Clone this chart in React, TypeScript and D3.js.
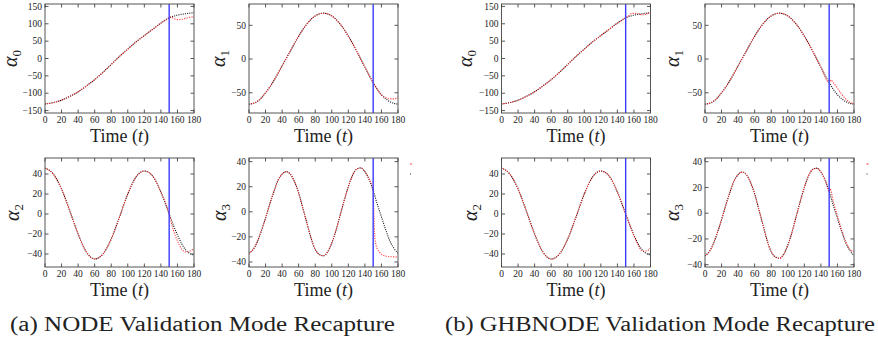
import React from 'react';
import * as d3 from 'd3';

// ---------- data ----------
const T10 = [0, 10, 20, 30, 40, 50, 60, 70, 80, 90, 100, 110, 120, 130, 140, 150, 160, 170, 180];
const T5 = [0, 5, 10, 15, 20, 25, 30, 35, 40, 45, 50, 55, 60, 65, 70, 75, 80, 85, 90, 95, 100, 105, 110, 115, 120, 125, 130, 135, 140, 145, 150, 155, 160, 165, 170, 175, 180];

const alpha0Truth = [-131, -127, -120, -109, -96, -79, -61, -40, -17, 6, 27, 48, 66, 84, 102, 117, 125, 129, 132];
const alpha1Truth = [-67, -63, -50, -32, -10, 12, 34, 52, 64, 68, 64, 52, 34, 12, -12, -35, -53, -63, -67];
const alpha2Truth = [46, 40, 25, 3, -20, -38, -45, -40, -25, -3, 20, 37, 43, 38, 22, 0, -21, -36, -41];
const alpha3Truth = [-33, -30, -24, -15, -5, 6, 16, 25, 30, 32, 30, 24, 15, 3, -9, -21, -30, -34, -35, -32, -25, -15, -3, 9, 20, 29, 34, 35, 32, 26, 17, 6, -4, -14, -23, -29, -33];

// NODE validation predictions (after t = 150)
const nodeA0T = [150, 152, 155, 160, 165, 170, 175, 180];
const nodeA0 = [117, 120, 116, 112, 113, 116, 119, 120];
const nodeA1T = [150, 155, 160, 165, 170, 175, 180];
const nodeA1 = [-35, -45, -53, -57, -59, -59, -57];
const nodeA2T = [150, 155, 160, 165, 170, 175, 180];
const nodeA2 = [0, -16, -27, -35, -38, -37, -35];
const nodeA3T = [150, 150.4, 150.8, 151.3, 152, 153, 155, 158, 162, 170, 180];
const nodeA3 = [17, 8, -2, -12, -20, -25, -29.5, -32.5, -34.5, -35.8, -36];

// GHBNODE validation predictions (after t = 150)
const ghbA0T = [150, 154, 158, 162, 166, 170, 174, 177, 180];
const ghbA0 = [117, 124, 130, 130, 128, 126, 127, 130, 132];
const ghbA1T = [150, 152, 155, 160, 165, 170, 175, 180];
const ghbA1 = [-30, -31, -35, -43, -52, -59, -64, -66];
const ghbA2T = [150, 155, 160, 165, 170, 175, 180];
const ghbA2 = [0, -11, -22, -31, -37, -37, -34];
const ghbA3T = [150, 151, 155, 160, 165, 170, 175, 180];
const ghbA3 = [18, 19, 9, -2, -13, -22, -28, -30];

const xTicks = [0, 20, 40, 60, 80, 100, 120, 140, 160, 180];
const yTicksA0 = [-150, -100, -50, 0, 50, 100, 150];
const yTicksA1 = [-50, 0, 50];
const yTicksA23 = [-40, -20, 0, 20, 40];
const splitT = 150;
const captions = ['(a) NODE Validation Mode Recapture', '(b) GHBNODE Validation Mode Recapture'];

// ---------- layout ----------
const W = 149;
const H = 109;
const serif = "'Times New Roman', Times, 'Liberation Serif', 'DejaVu Serif', serif";

type P = {
  left: number; top: number; dom: [number, number]; ticks: number[];
  tT: number[]; tV: number[]; pT: number[]; pV: number[]; sub: string; labOff: number;
};

const panels: P[] = [
  { left: 45, top: 4, dom: [-157, 157], ticks: yTicksA0, tT: T10, tV: alpha0Truth, pT: nodeA0T, pV: nodeA0, sub: '0', labOff: 28 },
  { left: 249, top: 4, dom: [-80, 81.6], ticks: yTicksA1, tT: T10, tV: alpha1Truth, pT: nodeA1T, pV: nodeA1, sub: '1', labOff: 24 },
  { left: 45, top: 158, dom: [-53, 56], ticks: yTicksA23, tT: T10, tV: alpha2Truth, pT: nodeA2T, pV: nodeA2, sub: '2', labOff: 26 },
  { left: 249, top: 158, dom: [-44, 42.9], ticks: yTicksA23, tT: T5, tV: alpha3Truth, pT: nodeA3T, pV: nodeA3, sub: '3', labOff: 23 },
  { left: 501.5, top: 4, dom: [-157, 157], ticks: yTicksA0, tT: T10, tV: alpha0Truth, pT: ghbA0T, pV: ghbA0, sub: '0', labOff: 30 },
  { left: 705, top: 4, dom: [-80, 81.6], ticks: yTicksA1, tT: T10, tV: alpha1Truth, pT: ghbA1T, pV: ghbA1, sub: '1', labOff: 26 },
  { left: 501.5, top: 158, dom: [-53, 56], ticks: yTicksA23, tT: T10, tV: alpha2Truth, pT: ghbA2T, pV: ghbA2, sub: '2', labOff: 25 },
  { left: 705, top: 158, dom: [-41.8, 42.9], ticks: yTicksA23, tT: T5, tV: alpha3Truth, pT: ghbA3T, pV: ghbA3, sub: '3', labOff: 26 },
];

const fmt = d3.format('d');

function Panel({ p, i }: { p: P; i: number }) {
  const x = d3.scaleLinear().domain([0, 180]).range([p.left, p.left + W]);
  const y = d3.scaleLinear().domain(p.dom).range([p.top + H, p.top]);
  const line = d3.line<[number, number]>().x(d => x(d[0])).y(d => y(d[1])).curve(d3.curveMonotoneX);
  const truth: [number, number][] = p.tT.map((t, k) => [t, p.tV[k]]);
  const recon: [number, number][] = truth.filter(d => d[0] <= splitT);
  const pred: [number, number][] = [...recon, ...p.pT.map((t, k) => [t, p.pV[k]] as [number, number]).filter(d => d[0] > splitT)];
  const bottom = p.top + H;
  const tl = 3.5;
  const clipId = `clip${i}`;
  return (
    <g>
      <defs>
        <clipPath id={clipId}>
          <rect x={p.left} y={p.top} width={W} height={H} />
        </clipPath>
      </defs>
      <g clipPath={`url(#${clipId})`}>
        <path d={line(truth) || ''} fill="none" stroke="#111" strokeWidth={1.1} strokeDasharray="1 1.2" />
        <path d={line(pred) || ''} fill="none" stroke="#ff2a2a" strokeWidth={1.1} strokeDasharray="1.2 1.3" strokeDashoffset={1} opacity={0.9} />
        <line x1={x(splitT)} x2={x(splitT)} y1={p.top} y2={bottom} stroke="#3b3bff" strokeWidth={1.4} />
      </g>
      <rect x={p.left} y={p.top} width={W} height={H} fill="none" stroke="#555" strokeWidth={1} />
      {xTicks.map(t => (
        <g key={'x' + t}>
          <line x1={x(t)} x2={x(t)} y1={bottom} y2={bottom - tl} stroke="#444" strokeWidth={0.9} />
          <line x1={x(t)} x2={x(t)} y1={p.top} y2={p.top + tl} stroke="#444" strokeWidth={0.9} />
          <text x={x(t)} y={bottom + 9.5} fontSize={9.5} fontFamily={serif} textAnchor="middle" fill="#222">{fmt(t)}</text>
        </g>
      ))}
      {p.ticks.map(v => (
        <g key={'y' + v}>
          <line x1={p.left} x2={p.left + tl} y1={y(v)} y2={y(v)} stroke="#444" strokeWidth={0.9} />
          <line x1={p.left + W} x2={p.left + W - tl} y1={y(v)} y2={y(v)} stroke="#444" strokeWidth={0.9} />
          <text x={p.left - 3} y={y(v)} dy="0.34em" fontSize={9.5} fontFamily={serif} textAnchor="end" fill="#222">{fmt(v)}</text>
        </g>
      ))}
      <text x={p.left + W / 2} y={bottom + 29} fontSize={18} fontFamily={serif} fontWeight="normal" textAnchor="middle" fill="#222">
        Time (<tspan fontStyle="italic">t</tspan>)
      </text>
      <g transform={`translate(${p.left - p.labOff},${p.top + H / 2}) rotate(-90)`}>
        <text x={0} y={0} fontSize={20} fontFamily={serif} textAnchor="middle" fill="#222">
          <tspan fontStyle="italic">α</tspan>
          <tspan fontSize={13} dy={4}>{p.sub}</tspan>
        </text>
      </g>
    </g>
  );
}

export default function App() {
  return (
    <svg width={878} height={345} style={{ position: 'absolute', left: 0, top: 0, background: '#fff' }}>
      <rect x={0} y={0} width={878} height={345} fill="#fff" />
      {panels.map((p, i) => <Panel key={i} p={p} i={i} />)}
      {[410, 866.5].map(lx => (
        <g key={lx}>
          <line x1={lx} x2={lx + 2} y1={164} y2={164} stroke="#ff4a4a" strokeWidth={1.2} />
          <line x1={lx} x2={lx + 1} y1={174} y2={174} stroke="#222" strokeWidth={1.2} />
        </g>
      ))}
      <text x={10} y={331} fontSize={20} fontFamily={serif} fill="#222" textLength={385} lengthAdjust="spacingAndGlyphs">{captions[0]}</text>
      <text x={445} y={331} fontSize={20} fontFamily={serif} fill="#222" textLength={430} lengthAdjust="spacingAndGlyphs">{captions[1]}</text>
    </svg>
  );
}
